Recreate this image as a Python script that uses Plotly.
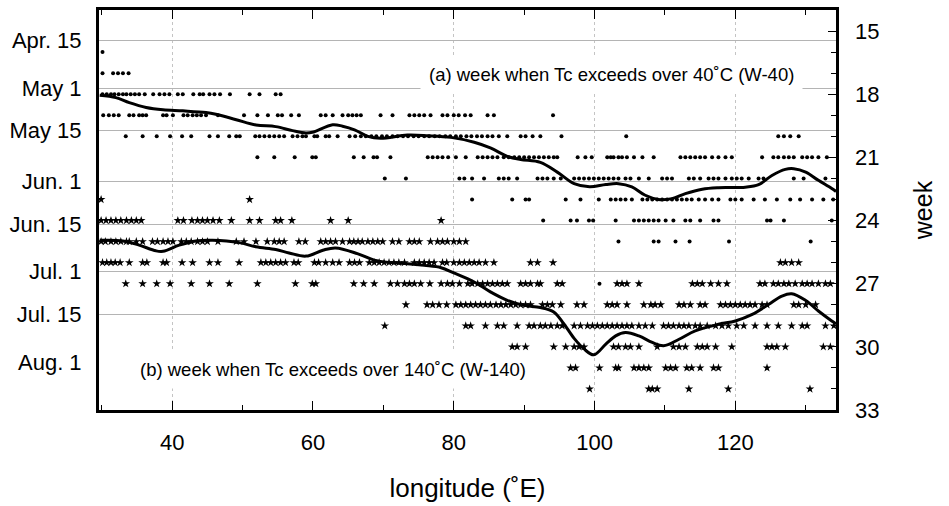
import plotly.graph_objects as go

# ---------------- data ----------------
# W-40 : week when Tc exceeds 40 C (dots), longitudes per week row
w40_wk16 = [30.1]
w40_wk17 = [30.1, 31.6, 32.3, 33.0, 33.8]
w40_wk18 = [30.1, 30.7, 31.3, 31.8, 32.4, 33.0, 33.5, 34.1, 34.7, 35.3, 36.1, 37.3, 38.2, 38.9,
            39.6, 40.8, 41.5, 43.0, 43.9, 44.4, 45.3, 46.0, 46.8, 48.2, 51.0, 52.4, 54.7, 55.4]
w40_wk19 = [30.2, 31.0, 31.7, 32.4, 33.9, 34.5, 35.3, 35.8, 36.3, 38.7, 39.2, 40.1, 41.6, 42.2,
            42.9, 43.5, 44.1, 44.8, 46.5, 50.2, 52.1, 53.6, 55.0, 55.6, 56.9, 58.0, 61.1, 61.8,
            62.8, 64.2, 65.0, 65.6, 66.2, 66.8, 69.6, 71.3, 73.7, 74.4, 75.1, 75.8, 76.7, 78.4,
            79.1, 80.0, 80.7, 81.6, 82.4, 84.8, 85.7, 94.1]
w40_wk20 = [33.4, 35.8, 37.8, 39.7, 41.4, 42.7, 45.3, 46.5, 48.1, 49.1, 49.6, 51.8, 52.4, 53.1,
            53.8, 54.5, 55.2, 55.9, 57.1, 57.8, 58.5, 59.0, 60.2, 60.6, 61.8, 62.3, 63.5, 65.2,
            66.0, 66.8, 67.5, 68.3, 69.0, 69.8, 70.5, 71.3, 72.0, 72.8, 73.5, 74.3, 75.0, 75.8,
            76.5, 77.3, 78.0, 78.8, 79.5, 80.3, 81.0, 81.8, 82.5, 83.3, 84.0, 84.8, 85.5, 86.4,
            87.6, 89.5, 90.2, 91.2, 92.3, 95.3, 104.5, 126.1, 126.9, 127.8, 129.0]
w40_wk21 = [52.1, 54.5, 57.4, 59.9, 60.4, 65.8, 67.2, 68.6, 69.1, 71.0, 76.3, 77.0, 77.7, 78.4,
            79.2, 80.3, 81.7, 83.4, 84.1, 84.8, 85.5, 86.2, 87.1, 87.8, 88.6, 89.3, 90.0, 90.7,
            91.4, 92.1, 92.8, 93.5, 94.2, 94.7, 97.6, 98.7, 99.6, 101.8, 102.3, 102.7, 103.4,
            103.9, 104.6, 105.6, 106.8, 108.4, 112.2, 112.9, 113.6, 114.3, 115.0, 115.7, 116.7,
            117.6, 118.6, 119.5, 123.8, 125.4, 126.1, 126.9, 127.6, 128.3, 129.5, 130.2, 130.9,
            131.8, 133.0]
w40_wk22 = [70.2, 73.2, 80.8, 81.5, 82.6, 84.3, 86.4, 87.1, 87.8, 89.0, 91.9, 92.6, 93.3, 94.2,
            95.2, 97.1, 97.8, 98.5, 99.2, 99.9, 100.6, 101.3, 102.0, 102.7, 103.4, 104.4, 105.1,
            106.3, 107.7, 109.6, 110.3, 111.0, 113.4, 114.1, 115.0, 116.2, 116.9, 117.6, 118.6,
            119.5, 120.2, 120.9, 121.9, 123.3, 124.0, 128.3, 129.7, 132.8]
w40_wk23 = [82.6, 88.3, 90.2, 90.7, 95.9, 98.0, 100.6, 102.3, 103.0, 103.7, 104.4, 105.3, 106.8,
            107.5, 108.2, 108.9, 109.6, 110.3, 111.0, 111.7, 112.4, 113.1, 113.8, 114.8, 115.7,
            116.7, 117.6, 119.3, 120.0, 120.9, 122.6, 124.2, 125.9, 127.8, 129.2, 130.9, 132.5,
            133.9]
w40_wk24 = [92.7, 96.6, 97.5, 99.2, 99.8, 103.0, 105.6, 106.3, 107.0, 107.7, 108.4, 109.1, 110.1,
            111.2, 112.9, 113.6, 115.0, 116.9, 117.6, 124.5, 125.0, 126.9, 133.7]
w40_wk25 = [103.4, 108.4, 109.1, 111.5, 113.5, 119.1, 130.7]
w40_wk27 = [100.7]

# W-140 : week when Tc exceeds 140 C (stars)
w140_wk23 = [29.9, 51.0]
w140_wk24 = [29.9, 30.6, 31.3, 32.0, 32.7, 33.5, 34.2, 34.9, 35.6, 40.8, 41.6, 42.8, 43.6, 44.3,
             45.0, 45.8, 46.7, 48.4, 51.0, 52.4, 54.7, 55.4, 57.0, 62.5, 65.0, 78.2]
w140_wk25 = [29.9, 30.5, 31.3, 32.0, 32.7, 33.5, 33.9, 34.9, 35.8, 37.2, 37.9, 38.7, 39.4, 40.1,
             41.3, 42.0, 42.7, 43.6, 44.3, 45.0, 46.5, 49.1, 50.2, 51.9, 53.5, 54.5, 55.2, 55.9,
             58.0, 58.9, 61.1, 61.8, 62.5, 63.2, 64.2, 65.2, 65.8, 66.4, 67.0, 67.8, 68.5, 69.2,
             69.9, 71.3, 72.2, 73.7, 74.4, 75.1, 76.7, 77.7, 78.4, 79.1, 80.0, 80.8, 81.7]
w140_wk26 = [30.1, 30.7, 31.3, 31.9, 32.6, 33.9, 35.8, 36.4, 38.7, 39.2, 41.4, 42.9, 45.3, 46.5,
             49.5, 52.6, 53.3, 54.0, 54.7, 55.4, 56.1, 57.3, 57.9, 60.2, 60.8, 61.8, 62.8, 63.7,
             65.2, 65.9, 66.6, 68.0, 68.7, 69.4, 70.1, 70.8, 71.5, 72.2, 73.0, 74.4, 75.1, 75.8,
             76.5, 77.2, 78.4, 79.0, 80.0, 80.8, 81.5, 82.2, 82.9, 83.6, 84.5, 85.7, 90.9, 91.9,
             94.1, 126.4, 127.1, 128.0, 129.0]
w140_wk27 = [33.4, 35.8, 37.8, 39.7, 42.7, 45.3, 48.1, 52.1, 57.5, 59.9, 60.4, 65.8, 67.2, 68.7,
             71.0, 72.0, 73.0, 73.7, 74.4, 75.3, 76.6, 78.2, 79.1, 79.8, 80.8, 82.0, 82.6, 83.4,
             84.1, 84.8, 85.5, 86.2, 86.9, 87.6, 89.5, 90.2, 90.9, 91.9, 92.3, 94.7, 95.4, 103.2,
             103.9, 104.6, 106.3, 113.9, 114.6, 115.3, 116.5, 117.6, 118.8, 123.5, 124.2, 125.4,
             126.1, 126.9, 127.6, 128.5, 129.5, 130.2, 130.9, 131.8, 132.8, 133.5]
w140_wk28 = [73.2, 76.2, 77.0, 77.9, 79.0, 80.3, 81.0, 81.7, 82.4, 83.1, 83.8, 84.5, 85.2, 86.0,
             86.7, 87.4, 88.1, 88.8, 89.5, 90.2, 90.9, 92.6, 93.3, 94.0, 95.2, 97.5, 98.5, 101.8,
             102.5, 103.2, 104.6, 107.0, 108.0, 108.6, 109.4, 112.0, 112.7, 113.6, 115.0, 115.7,
             117.9, 118.6, 119.3, 120.0, 120.7, 121.4, 122.1, 122.8, 123.8, 124.5, 128.3, 129.0,
             130.0, 131.4]
w140_wk29 = [70.2, 81.7, 82.4, 84.5, 86.2, 87.1, 89.0, 90.7, 91.4, 92.3, 93.0, 93.8, 94.7, 95.4,
             97.1, 98.0, 99.0, 99.7, 100.4, 101.1, 101.8, 102.5, 103.2, 103.9, 104.6, 105.3,
             106.3, 107.2, 108.2, 109.8, 110.5, 111.2, 112.0, 112.7, 113.4, 114.3, 115.0, 116.0,
             117.2, 118.1, 119.0, 120.2, 121.2, 122.8, 124.5, 126.1, 128.0, 129.5, 130.2, 132.8,
             134.0]
w140_wk30 = [88.3, 89.0, 90.2, 94.2, 95.9, 97.1, 97.8, 98.5, 102.7, 103.4, 104.4, 105.1, 106.3,
             108.9, 111.2, 112.0, 112.9, 114.6, 115.3, 116.0, 117.2, 119.5, 124.5, 125.2, 125.9,
             127.1, 132.5, 133.5]
w140_wk31 = [96.6, 97.3, 100.7, 103.0, 103.4, 105.6, 106.3, 107.0, 107.7, 110.1, 110.8, 111.5,
             113.1, 113.8, 115.0, 116.9, 117.6, 124.5]
w140_wk32 = [99.3, 107.7, 108.2, 108.9, 113.4, 119.0, 130.6]

# smoothed curves
c40_lon = [29.7, 32.0, 33.9, 36.3, 38.7, 41.5, 44.8, 46.2, 49.1, 51.9, 54.7, 57.1, 59.0, 59.9,
           62.8, 64.2, 65.9, 67.8, 69.6, 73.4, 76.3, 79.6, 82.9, 85.2, 87.6, 89.5, 92.3, 94.7,
           97.1, 99.3, 101.6, 103.4, 105.3, 107.2, 109.1, 111.0, 112.9, 115.3, 117.6, 121.4,
           123.3, 125.2, 127.1, 128.3, 130.0, 131.8, 133.7, 134.3]
c40_wk = [18.05, 18.16, 18.4, 18.63, 18.74, 18.79, 18.87, 18.95, 19.21, 19.46, 19.54, 19.73,
          19.84, 19.81, 19.45, 19.52, 19.69, 20.0, 20.09, 19.94, 19.97, 20.05, 20.28, 20.55,
          20.95, 21.1, 21.24, 21.7, 22.25, 22.4, 22.29, 22.25, 22.4, 22.8, 23.0, 22.96, 22.72,
          22.51, 22.44, 22.42, 22.3, 21.86, 21.57, 21.54, 21.7, 22.09, 22.48, 22.62]
c140_lon = [29.7, 33.0, 35.3, 37.7, 38.7, 41.0, 43.4, 45.7, 49.5, 51.9, 54.7, 56.6, 59.0, 61.4,
            63.2, 66.3, 68.7, 71.1, 73.4, 75.8, 78.2, 80.0, 82.9, 85.2, 87.6, 90.0, 92.3, 94.2,
            95.6, 97.1, 98.5, 99.9, 101.6, 103.0, 104.4, 106.3, 108.2, 109.8, 112.0, 114.3,
            117.6, 120.0, 122.4, 124.7, 126.6, 128.0, 130.0, 131.8, 133.7, 134.3]
c140_wk = [24.94, 24.97, 25.17, 25.44, 25.46, 25.17, 24.97, 24.94, 25.05, 25.25, 25.38, 25.54,
           25.69, 25.41, 25.3, 25.57, 25.88, 26.0, 26.05, 26.13, 26.24, 26.49, 26.92, 27.39,
           27.79, 28.03, 28.13, 28.34, 28.89, 29.6, 30.1, 30.38, 29.87, 29.48, 29.32, 29.48,
           29.79, 29.95, 29.64, 29.24, 28.93, 28.77, 28.46, 27.99, 27.59, 27.48, 27.8, 28.3,
           28.77, 28.9]

# left-axis date labels (position in weeks)
date_labels = ["Apr. 15", "May 1", "May 15", "Jun. 1", "Jun. 15", "Jul. 1", "Jul. 15", "Aug. 1"]
date_weeks = [15.43, 17.71, 19.73, 22.16, 24.18, 26.4, 28.45, 30.75]
grid_weeks = date_weeks[:7]
x_grid = [40, 80, 100, 120]

w40_rows = [(16, w40_wk16), (17, w40_wk17), (18, w40_wk18), (19, w40_wk19), (20, w40_wk20),
            (21, w40_wk21), (22, w40_wk22), (23, w40_wk23), (24, w40_wk24), (25, w40_wk25),
            (27, w40_wk27)]
w140_rows = [(23, w140_wk23), (24, w140_wk24), (25, w140_wk25), (26, w140_wk26), (27, w140_wk27),
             (28, w140_wk28), (29, w140_wk29), (30, w140_wk30), (31, w140_wk31), (32, w140_wk32)]

def flatten(rows):
    xs, ys = [], []
    for wk, lons in rows:
        xs += lons
        ys += [wk] * len(lons)
    return xs, ys

FONT = "Liberation Sans, Arial, sans-serif"
XR = [29.6, 134.3]
YR = [33, 14]

fig = go.Figure()
x40, y40 = flatten(w40_rows)
x140, y140 = flatten(w140_rows)
fig.add_trace(go.Scatter(x=x40, y=y40, mode="markers",
                         marker=dict(symbol="circle", size=4, color="black"), name="W-40"))
fig.add_trace(go.Scatter(x=x140, y=y140, mode="markers",
                         marker=dict(symbol="star", size=6.5, color="black", line=dict(width=0)),
                         name="W-140"))
fig.add_trace(go.Scatter(x=c40_lon, y=c40_wk, mode="lines",
                         line=dict(color="black", width=3, shape="spline", smoothing=1)))
fig.add_trace(go.Scatter(x=c140_lon, y=c140_wk, mode="lines",
                         line=dict(color="black", width=3, shape="spline", smoothing=1)))
# helper traces for overlay axes
fig.add_trace(go.Scatter(x=[], y=[], xaxis="x", yaxis="y2", showlegend=False))
fig.add_trace(go.Scatter(x=[], y=[], xaxis="x2", yaxis="y3", showlegend=False))

fig.update_layout(
    width=949, height=506,
    margin=dict(l=99, r=113, t=7, b=96),
    paper_bgcolor="white", plot_bgcolor="white",
    showlegend=False,
    font=dict(family=FONT, color="black"),
    xaxis=dict(range=XR, tick0=40, dtick=20, ticks="inside", ticklen=9, tickwidth=1.3,
               tickcolor="black", minor=dict(dtick=10, tick0=40, ticks="inside", ticklen=5,
                                             tickwidth=1, tickcolor="black"),
               showline=True, linewidth=3, linecolor="black", mirror="ticks",
               showgrid=False, zeroline=False, tickfont=dict(size=22),
               ticklabelstandoff=11,
               title=dict(text="longitude (˚E)", font=dict(size=26), standoff=25)),
    xaxis2=dict(range=XR, overlaying="x", anchor="y3", tickvals=x_grid, showgrid=True,
                griddash="dot", gridcolor="#c4c4c4", gridwidth=1, showticklabels=False,
                ticks="", zeroline=False, showline=False),
    yaxis=dict(range=YR, tickvals=date_weeks, ticktext=date_labels, ticks="",
               showgrid=False, zeroline=False, showline=True, linewidth=3,
               linecolor="black", mirror=True, tickfont=dict(size=22),
               ticklabelstandoff=10),
    yaxis2=dict(range=YR, overlaying="y", side="right", anchor="x", tick0=15, dtick=3,
                ticks="inside", ticklen=8, tickwidth=1.2, tickcolor="black",
                minor=dict(dtick=1, tick0=15, ticks="inside", ticklen=5, tickwidth=1,
                           tickcolor="black"),
                showgrid=False, zeroline=False, showline=False, tickfont=dict(size=22),
                ticklabelstandoff=18,
                title=dict(text="week", font=dict(size=25), standoff=36)),
    yaxis3=dict(range=YR, overlaying="y", anchor="x2", tickvals=grid_weeks, showgrid=True,
                gridcolor="#b4b4b4", gridwidth=1, showticklabels=False, ticks="",
                zeroline=False, showline=False),
    annotations=[
        dict(x=102.4, y=17.08, xref="x", yref="y", text="(a) week when Tc exceeds over 40˚C (W-40)",
             showarrow=False, font=dict(size=18.5, family=FONT, color="black"),
             bgcolor="white", borderpad=8),
        dict(x=62.8, y=31.07, xref="x", yref="y", text="(b) week when Tc exceeds over 140˚C (W-140)",
             showarrow=False, font=dict(size=18.5, family=FONT, color="black"),
             bgcolor="white", borderpad=8),
    ],
)

fig.write_html("out.html")
